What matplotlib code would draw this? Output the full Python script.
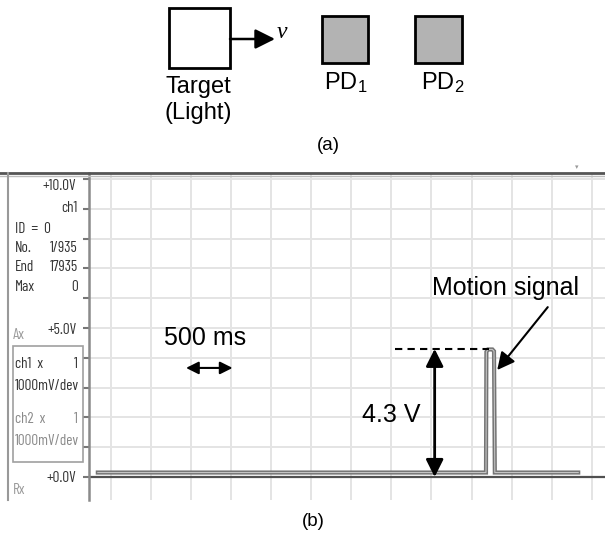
import matplotlib
matplotlib.use("Agg")
import matplotlib.pyplot as plt
from matplotlib.patches import Rectangle, FancyArrowPatch

plt.rcParams['font.family'] = ['Liberation Sans', 'DejaVu Sans']
plt.rcParams['mathtext.fontset'] = 'custom'
plt.rcParams['mathtext.rm'] = 'Liberation Sans'
plt.rcParams['mathtext.it'] = 'Liberation Sans:italic'

# ---------------- data ----------------
trace_t = [0.11, 4.95, 4.955, 4.975, 5.03, 5.05, 5.06, 6.10]      # seconds
trace_v = [0.15, 0.15, 4.20, 4.28, 4.28, 4.22, 0.15, 0.15]          # volts
ytick_vals = [0, 1, 2, 3, 4, 5, 6, 7, 8, 9, 10]
ytick_labels = ['+0.0V', '', '', '', '', '+5.0V', '', '', '', '', '+10.0V']
xgrid_t = [0.27 + 0.5 * k for k in range(13)]
peak_v = 4.3
peak_label = '4.3 V'
time_label = '500 ms'
motion_label = 'Motion signal'

# scope side-panel readout: (left text, right text, y_pixel, colour)
panel_lines = [
    ('', 'ch1', 208, '#333333'),
    ('ID  =  0', '', 229, '#333333'),
    ('No.', '1/935', 248, '#333333'),
    ('End', '17935', 267, '#333333'),
    ('Max', '0', 287, '#333333'),
    ('ch1  x', '1', 364, '#333333'),
    ('1000mV/dev', '', 386, '#333333'),
    ('ch2  x', '1', 419, '#8a8a8a'),
    ('1000mV/dev', '', 441, '#8a8a8a'),
]

W, H = 605, 537
fig = plt.figure(figsize=(W / 100, H / 100), dpi=100)

# ---------------- scope axes ----------------
x0, x1, ytop, ybot = 89, 605, 173, 500
ax = fig.add_axes([x0 / W, (H - ybot) / H, (x1 - x0) / W, (ybot - ytop) / H])
px_per_s = 80.2
px_per_v = 29.8
zero_px = 477
ax.set_xlim(0, (x1 - x0) / px_per_s)
ax.set_ylim(-(ybot - zero_px) / px_per_v, (zero_px - ytop) / px_per_v)

narrow = ['Liberation Sans Narrow', 'Barlow Condensed', 'Liberation Sans']
nfs = 11
ax.set_yticks(ytick_vals)
ax.set_yticklabels(ytick_labels, family=narrow, fontsize=nfs, color='#333333')
ax.tick_params(axis='y', direction='out', length=4, width=1.5, color='#777777', pad=5)
ax.get_yticklabels()[-1].set_verticalalignment('top')
ax.set_xticks(xgrid_t)
ax.set_xticklabels([])
ax.tick_params(axis='x', length=0)
ax.grid(True, color='#e4e4e4', lw=1.4)
ax.set_axisbelow(True)
for s in ['top', 'right', 'bottom']:
    ax.spines[s].set_visible(False)
ax.spines['left'].set_color('#8a8a8a')
ax.spines['left'].set_linewidth(1.8)

ax.axhline(0, color='#505050', lw=1.6, zorder=2)
ax.plot(trace_t, trace_v, color='#747474', lw=3.0, zorder=3, solid_joinstyle='miter')
ax.plot(trace_t, trace_v, color='#c4c4c4', lw=0.8, zorder=4)

# annotations
ax.plot([3.82, 4.99], [peak_v, peak_v], color='black', lw=1.5, ls=(0, (3.5, 2.5)), zorder=5)
ax.add_patch(FancyArrowPatch((4.31, 0.0), (4.31, peak_v), arrowstyle='<|-|>,head_length=7,head_width=3.5',
                             color='black', lw=2, mutation_scale=1.5, shrinkA=0, shrinkB=0, zorder=6))
ax.text(3.77, 2.08, peak_label, fontsize=18, ha='center', va='center', zorder=6)
ax.add_patch(FancyArrowPatch((1.21, 3.66), (1.79, 3.66), arrowstyle='<|-|>,head_length=5,head_width=2.5',
                             color='black', lw=1.5, mutation_scale=1.5, shrinkA=0, shrinkB=0, zorder=6))
ax.text(1.45, 4.66, time_label, fontsize=18, ha='center', va='center', zorder=6)
ax.text(5.19, 6.34, motion_label, fontsize=18, ha='center', va='center', zorder=6)
ax.add_patch(FancyArrowPatch((5.72, 5.70), (5.09, 3.59), arrowstyle='-|>,head_length=7,head_width=3.5',
                             color='black', lw=1.5, mutation_scale=1.5, shrinkA=0, shrinkB=0, zorder=6))

# ---------------- overlay (pixel coords) ----------------
ov = fig.add_axes([0, 0, 1, 1], facecolor='none')
ov.set_xlim(0, W)
ov.set_ylim(H, 0)
ov.axis('off')

# scope frame
ov.plot([0, W], [173, 173], color='#555555', lw=2)
ov.plot([0, W], [175.5, 175.5], color='#bdbdbd', lw=1)
ov.plot([8, 8], [173, 500], color='#999999', lw=1.5)
ov.add_patch(Rectangle((13, 346), 70, 116, fill=False, ec='#a0a0a0', lw=1.2))
ov.text(577, 168, '\u25be', fontsize=5, color='#999999', ha='center', va='center')
for left, right, yy, col in panel_lines:
    if left:
        ov.text(15, yy, left, family=narrow, fontsize=nfs, color=col, ha='left', va='center')
    if right:
        ov.text(78, yy, right, family=narrow, fontsize=nfs, color=col, ha='right', va='center')
ov.text(13, 335, 'Ax', family=narrow, fontsize=nfs, color='#9a9a9a', ha='left', va='center')
ov.text(13, 490, 'Rx', family=narrow, fontsize=nfs, color='#9a9a9a', ha='left', va='center')

# diagram (a)
ov.add_patch(Rectangle((169, 8), 61, 60, fill=False, ec='black', lw=2))
ov.add_patch(FancyArrowPatch((230, 39), (275, 39), arrowstyle='-|>,head_length=8,head_width=4',
                             color='black', lw=1.8, mutation_scale=1.5, shrinkA=0, shrinkB=0))
ov.text(277, 32, 'v', family=['Liberation Serif'], style='italic', fontsize=17, ha='left', va='center')
ov.add_patch(Rectangle((322, 16), 46, 47, fc='#b3b3b3', ec='black', lw=2))
ov.add_patch(Rectangle((415, 16), 47, 47, fc='#b3b3b3', ec='black', lw=2))
ov.text(198, 93, 'Target', fontsize=17, ha='center', va='baseline')
ov.text(198, 119, '(Light)', fontsize=17, ha='center', va='baseline')
ov.text(346, 89, r'PD$_{\mathregular{1}}$', fontsize=17, ha='center', va='baseline')
ov.text(443, 89, r'PD$_{\mathregular{2}}$', fontsize=17, ha='center', va='baseline')
ov.text(328, 146, '(a)', fontsize=13.5, ha='center', va='center')
ov.text(313, 521, '(b)', fontsize=13.5, ha='center', va='center')

fig.savefig('out.png', dpi=100)
